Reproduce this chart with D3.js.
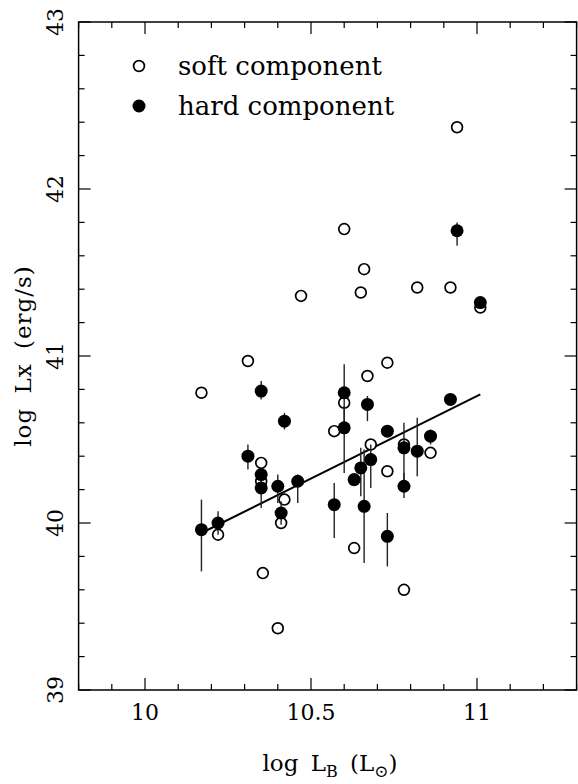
<!DOCTYPE html>
<html>
<head>
<meta charset="utf-8">
<script src="https://cdn.jsdelivr.net/npm/d3@7"></script>
<style>
  body { margin: 0; background: #fff; }
  text { font-family: "DejaVu Serif", serif; fill: #000; }
</style>
</head>
<body>
<div id="chart"></div>
<script>
// soft component (open circles): log LB, log Lx
var softX = [10.17, 10.31, 10.35, 10.35, 10.22, 10.42, 10.41, 10.355, 10.40, 10.47,
             10.60, 10.57, 10.60, 10.67, 10.73, 10.68, 10.78, 10.86, 10.73, 10.63,
             10.78, 10.94, 10.66, 10.65, 10.82, 10.92, 11.01];
var softY = [40.78, 40.97, 40.36, 40.25, 39.93, 40.14, 40.00, 39.70, 39.37, 41.36,
             40.72, 40.55, 41.76, 40.88, 40.96, 40.47, 40.47, 40.42, 40.31, 39.85,
             39.60, 42.37, 41.52, 41.38, 41.41, 41.41, 41.29];

// hard component (filled circles) with error range
var hardX  = [10.17, 10.22, 10.35, 10.42, 10.60, 10.60, 10.31, 10.35, 10.35, 10.40,
              10.46, 10.41, 10.57, 10.63, 10.65, 10.66, 10.68, 10.67, 10.73, 10.78,
              10.82, 10.78, 10.86, 10.73, 10.92, 10.94, 11.01];
var hardY  = [39.96, 40.00, 40.79, 40.61, 40.78, 40.57, 40.40, 40.29, 40.21, 40.22,
              40.25, 40.06, 40.11, 40.26, 40.33, 40.10, 40.38, 40.71, 40.55, 40.45,
              40.43, 40.22, 40.52, 39.92, 40.74, 41.75, 41.32];
var hardLo = [39.71, 39.93, 40.74, 40.56, 40.60, 40.30, 40.32, 40.25, 40.09, 40.12,
              40.12, 39.99, 39.91, 40.22, 40.16, 39.76, 40.21, 40.61, 40.52, 40.25,
              40.28, 40.15, 40.47, 39.74, 40.71, 41.66, 41.29];
var hardHi = [40.14, 40.07, 40.85, 40.66, 40.95, 40.70, 40.47, 40.33, 40.27, 40.29,
              40.29, 40.13, 40.24, 40.30, 40.45, 40.44, 40.47, 40.76, 40.58, 40.60,
              40.63, 40.30, 40.56, 40.06, 40.77, 41.80, 41.35];

// fitted line end points
var fitX = [10.17, 11.01];
var fitY = [39.94, 40.77];

var xTicks = [10, 10.5, 11];
var yTicks = [39, 40, 41, 42, 43];
var legendLabels = ["soft component", "hard component"];

var width = 578, height = 784,
    margin = {top: 22, right: 1.4, bottom: 94, left: 78.6};

var svg = d3.select("#chart").append("svg")
  .attr("width", width)
  .attr("height", height);

var x = d3.scaleLinear().domain([9.8, 11.3]).range([margin.left, width - margin.right]);
var y = d3.scaleLinear().domain([39, 43]).range([height - margin.bottom, margin.top]);

var x0 = x.range()[0], x1 = x.range()[1], y0 = y.range()[0], y1 = y.range()[1];

// ticks, major and minor, on all four sides
var xMinor = d3.range(98, 114).map(function(d){ return d / 10; });
var yMinor = d3.range(0, 21).map(function(d){ return 39 + d * 0.2; });
var ticks = svg.append("g").attr("stroke", "#000").attr("stroke-width", 1.2);

xMinor.forEach(function(v){
  var big = xTicks.some(function(t){ return Math.abs(t - v) < 1e-6; });
  var len = big ? 12 : 6;
  ticks.append("line").attr("x1", x(v)).attr("x2", x(v)).attr("y1", y0).attr("y2", y0 - len);
  ticks.append("line").attr("x1", x(v)).attr("x2", x(v)).attr("y1", y1).attr("y2", y1 + len);
});
yMinor.forEach(function(v){
  var big = yTicks.some(function(t){ return Math.abs(t - v) < 1e-6; });
  var len = big ? 12 : 6;
  ticks.append("line").attr("y1", y(v)).attr("y2", y(v)).attr("x1", x0).attr("x2", x0 + len);
  ticks.append("line").attr("y1", y(v)).attr("y2", y(v)).attr("x1", x1).attr("x2", x1 - len);
});

svg.append("rect")
  .attr("x", x0).attr("y", y1)
  .attr("width", x1 - x0).attr("height", y0 - y1)
  .attr("fill", "none").attr("stroke", "#000").attr("stroke-width", 1.5);

// tick labels
svg.selectAll(".xlab").data(xTicks).enter().append("text")
  .attr("x", function(d){ return x(d); })
  .attr("y", 720)
  .attr("text-anchor", "middle")
  .style("font-size", "22px")
  .text(function(d){ return d; });

svg.selectAll(".ylab").data(yTicks).enter().append("text")
  .attr("transform", function(d){ return "translate(63," + y(d) + ") rotate(-90)"; })
  .attr("text-anchor", "middle")
  .style("font-size", "22px")
  .text(function(d){ return d; });

// axis titles
var xt = svg.append("text")
  .attr("x", 330).attr("y", 771)
  .attr("text-anchor", "middle")
  .style("font-size", "23px")
  .style("word-spacing", "5px");
xt.append("tspan").text("log L");
xt.append("tspan").attr("dy", 6).style("font-size", "16px").text("B");
xt.append("tspan").attr("dy", -6).text(" (L");
xt.append("tspan").attr("dy", 6).style("font-size", "17px").text("\u2299");
xt.append("tspan").attr("dy", -6).text(")");

svg.append("text")
  .attr("transform", "translate(31," + (y0 + y1) / 2 + ") rotate(-90)")
  .attr("text-anchor", "middle")
  .style("font-size", "23px")
  .style("letter-spacing", "1px")
  .style("word-spacing", "6px")
  .text("log Lx (erg/s)");

// fit line
svg.append("line")
  .attr("x1", x(fitX[0])).attr("y1", y(fitY[0]))
  .attr("x2", x(fitX[1])).attr("y2", y(fitY[1]))
  .attr("stroke", "#000").attr("stroke-width", 2);

// soft points
svg.append("g").selectAll("circle").data(softX).enter().append("circle")
  .attr("cx", function(d){ return x(d); })
  .attr("cy", function(d, i){ return y(softY[i]); })
  .attr("r", 5.4)
  .attr("fill", "#fff").attr("stroke", "#000").attr("stroke-width", 1.7);

// hard points with error bars
var hard = svg.append("g");
hard.selectAll("line").data(hardX).enter().append("line")
  .attr("x1", function(d){ return x(d); })
  .attr("x2", function(d){ return x(d); })
  .attr("y1", function(d, i){ return y(hardLo[i]); })
  .attr("y2", function(d, i){ return y(hardHi[i]); })
  .attr("stroke", "#222").attr("stroke-width", 1.4);
hard.selectAll("circle").data(hardX).enter().append("circle")
  .attr("cx", function(d){ return x(d); })
  .attr("cy", function(d, i){ return y(hardY[i]); })
  .attr("r", 6.5)
  .attr("fill", "#000");

// legend
var leg = svg.append("g");
leg.append("circle").attr("cx", 139).attr("cy", 66).attr("r", 5.4)
  .attr("fill", "#fff").attr("stroke", "#000").attr("stroke-width", 1.7);
leg.append("circle").attr("cx", 139).attr("cy", 106).attr("r", 6.5).attr("fill", "#000");
leg.selectAll("text").data(legendLabels).enter().append("text")
  .attr("x", 178)
  .attr("y", function(d, i){ return 75 + i * 40; })
  .style("font-size", "26px")
  .text(function(d){ return d; });
</script>
</body>
</html>
